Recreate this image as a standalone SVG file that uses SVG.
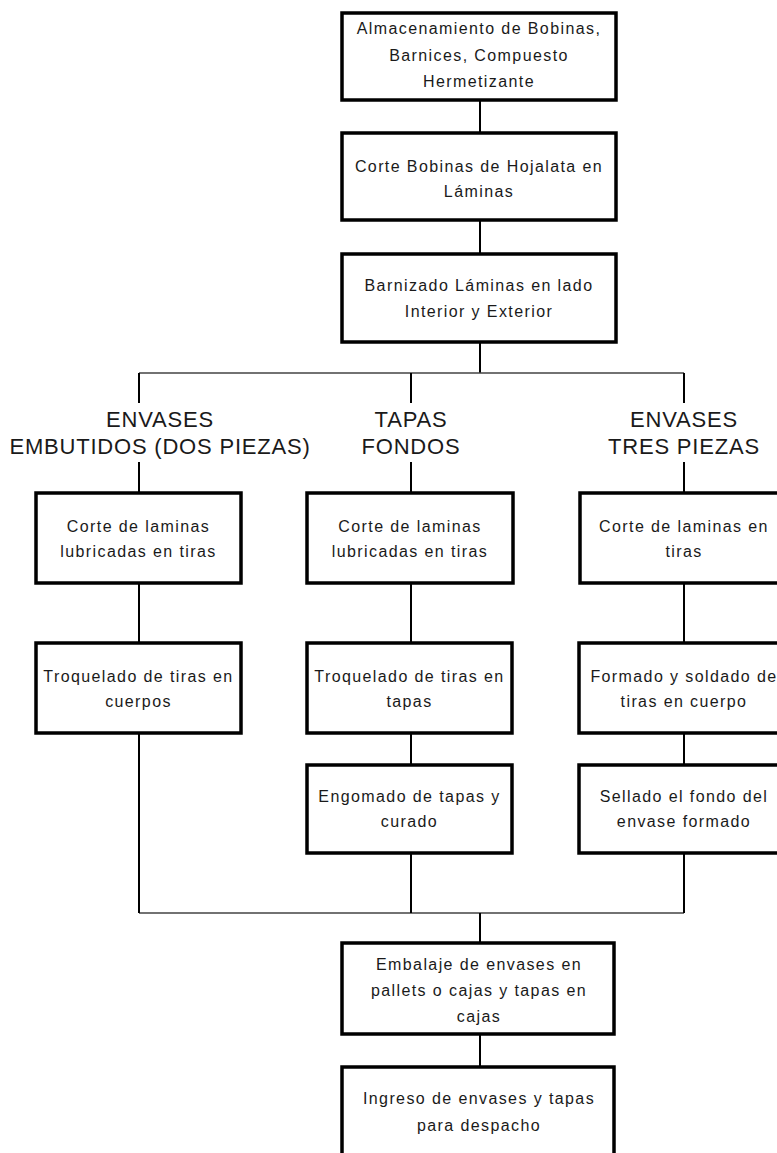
<svg xmlns="http://www.w3.org/2000/svg" width="777" height="1153" viewBox="0 0 777 1153">
<style>
.box{fill:#fff;stroke:#000;stroke-width:3.5}
.t{font-family:"Liberation Sans",Arial,sans-serif;font-size:16px;letter-spacing:1.4px;fill:#1a1a1a;text-anchor:middle}
.h{font-family:"Liberation Sans",Arial,sans-serif;font-size:22px;letter-spacing:0.8px;fill:#1a1a1a;text-anchor:middle}
.c{stroke:#000;stroke-width:2;fill:none}
.b{stroke:#444;stroke-width:1.6;fill:none}
</style>
<rect width="777" height="1153" fill="#fff"/>
<g id="connectors">
<path class="c" d="M480 100V133M480 220V254M480 342V373"/>
<path class="b" d="M139 373H684M139 913H684"/>
<path class="c" d="M139 373V403M139 462V493M411 373V403M411 462V493M684 373V403M684 462V493"/>
<path class="c" d="M139 583V643M411 583V643M684 583V643"/>
<path class="c" d="M139 733V913M411 733V765M684 733V765M411 853V913M684 853V913"/>
<path class="c" d="M480 913V943M480 1034V1067"/>
</g>
<g id="n1"><rect class="box" x="342" y="13" width="274" height="87"/>
<text class="t" x="479" y="34">Almacenamiento de Bobinas,</text>
<text class="t" x="479" y="60.5">Barnices, Compuesto</text>
<text class="t" x="479" y="87">Hermetizante</text></g>
<g id="n2"><rect class="box" x="342" y="133" width="274" height="87"/>
<text class="t" x="479" y="171.5">Corte Bobinas de Hojalata en</text>
<text class="t" x="479" y="197">Láminas</text></g>
<g id="n3"><rect class="box" x="342" y="254" width="274" height="88"/>
<text class="t" x="479" y="291">Barnizado Láminas en lado</text>
<text class="t" x="479" y="316.5">Interior y Exterior</text></g>
<g id="h1"><text class="h" x="160" y="427">ENVASES</text><text class="h" x="160" y="453.5">EMBUTIDOS (DOS PIEZAS)</text></g>
<g id="h2"><text class="h" x="411" y="427">TAPAS</text><text class="h" x="411" y="453.5">FONDOS</text></g>
<g id="h3"><text class="h" x="684" y="427">ENVASES</text><text class="h" x="684" y="453.5">TRES PIEZAS</text></g>
<g id="a1"><rect class="box" x="36" y="493" width="205" height="90"/>
<text class="t" x="138.5" y="531.5">Corte de laminas</text>
<text class="t" x="138.5" y="557">lubricadas en tiras</text></g>
<g id="a2"><rect class="box" x="36" y="643" width="205" height="90"/>
<text class="t" x="138.5" y="681.5">Troquelado de tiras en</text>
<text class="t" x="138.5" y="707">cuerpos</text></g>
<g id="b1"><rect class="box" x="307" y="493" width="206" height="90"/>
<text class="t" x="410" y="531.5">Corte de laminas</text>
<text class="t" x="410" y="557">lubricadas en tiras</text></g>
<g id="b2"><rect class="box" x="307" y="643" width="205" height="90"/>
<text class="t" x="409.5" y="681.5">Troquelado de tiras en</text>
<text class="t" x="409.5" y="707">tapas</text></g>
<g id="b3"><rect class="box" x="307" y="765" width="205" height="88"/>
<text class="t" x="409.5" y="801.5">Engomado de tapas y</text>
<text class="t" x="409.5" y="827">curado</text></g>
<g id="c1"><rect class="box" x="580" y="493" width="208" height="90"/>
<text class="t" x="684" y="531.5">Corte de laminas en</text>
<text class="t" x="684" y="557">tiras</text></g>
<g id="c2"><rect class="box" x="579" y="643" width="209" height="90"/>
<text class="t" x="684" y="681.5">Formado y soldado de</text>
<text class="t" x="684" y="707">tiras en cuerpo</text></g>
<g id="c3"><rect class="box" x="579" y="765" width="209" height="88"/>
<text class="t" x="684" y="801.5">Sellado el fondo del</text>
<text class="t" x="684" y="827">envase formado</text></g>
<g id="d1"><rect class="box" x="342" y="943" width="272" height="91"/>
<text class="t" x="479" y="970">Embalaje de envases en</text>
<text class="t" x="479" y="996">pallets o cajas y tapas en</text>
<text class="t" x="479" y="1021.5">cajas</text></g>
<g id="d2"><rect class="box" x="342" y="1067" width="272" height="100"/>
<text class="t" x="479" y="1103.5">Ingreso de envases y tapas</text>
<text class="t" x="479" y="1130.5">para despacho</text></g>
</svg>
